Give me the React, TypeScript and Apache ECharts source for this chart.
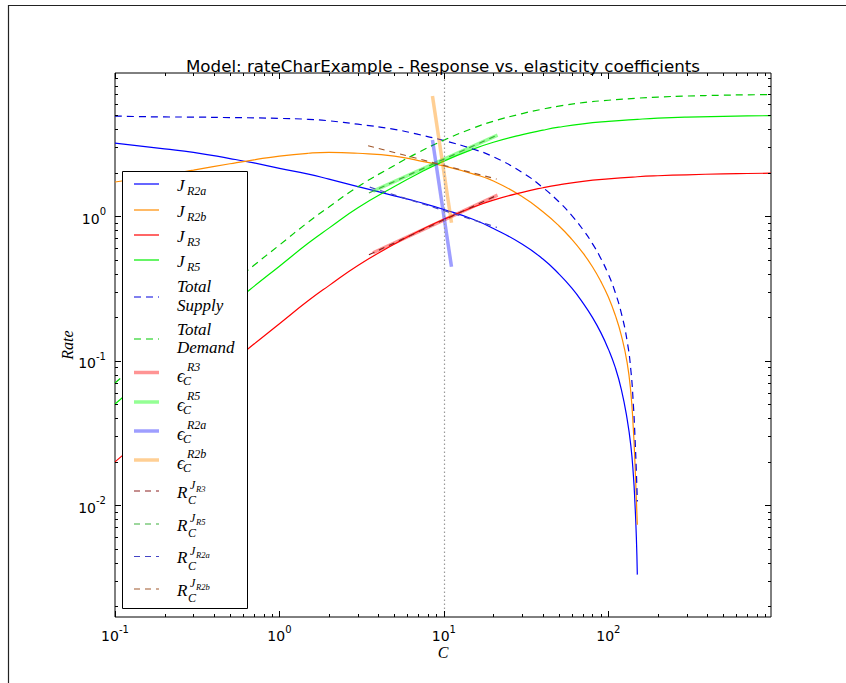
import React, { useEffect, useRef } from 'react';
import * as echarts from 'echarts';

// ---------- data ----------
const cSupply = [0.1, 0.2, 0.3, 0.5, 0.7, 1, 1.5, 2, 3, 5, 7, 10, 15, 20, 30, 40, 50, 60, 70, 80, 90, 100, 110, 120, 130, 137, 142, 145, 148, 150];
const jR2a = [3.2, 2.92, 2.76, 2.5, 2.33, 2.14, 1.95, 1.8, 1.6, 1.38, 1.25, 1.11, 0.95, 0.82, 0.638, 0.504, 0.398, 0.317, 0.251, 0.199, 0.156, 0.12, 0.09, 0.063, 0.0395, 0.0258, 0.016, 0.0105, 0.006, 0.0033];
const jR2b = [1.72, 1.93, 2.08, 2.3, 2.45, 2.6, 2.72, 2.76, 2.72, 2.6, 2.42, 2.22, 1.96, 1.75, 1.36, 1.07, 0.857, 0.69, 0.556, 0.446, 0.353, 0.275, 0.207, 0.149, 0.097, 0.06, 0.033, 0.02, 0.011, 0.0073];
const totalSupply = [4.92, 4.85, 4.84, 4.8, 4.78, 4.74, 4.67, 4.56, 4.32, 3.98, 3.67, 3.33, 2.91, 2.57, 2.0, 1.574, 1.255, 1.007, 0.807, 0.645, 0.509, 0.395, 0.297, 0.212, 0.137, 0.086, 0.049, 0.0305, 0.017, 0.0106];

const cDemand = [0.1, 0.2, 0.3, 0.5, 0.7, 1, 1.5, 2, 3, 5, 7, 10, 15, 20, 30, 40, 50, 70, 100, 150, 200, 300, 500, 700, 975];
const jR3 = [0.0199, 0.039, 0.058, 0.095, 0.13, 0.18, 0.26, 0.33, 0.455, 0.64, 0.785, 0.95, 1.15, 1.29, 1.46, 1.57, 1.645, 1.74, 1.81, 1.87, 1.9, 1.93, 1.96, 1.97, 1.98];
const jR5 = [0.05, 0.098, 0.145, 0.238, 0.326, 0.45, 0.65, 0.825, 1.14, 1.6, 1.97, 2.4, 2.9, 3.24, 3.66, 3.93, 4.12, 4.35, 4.52, 4.67, 4.76, 4.84, 4.9, 4.93, 4.95];
const totalDemand = [0.07, 0.137, 0.203, 0.333, 0.456, 0.63, 0.91, 1.155, 1.595, 2.24, 2.755, 3.35, 4.05, 4.53, 5.12, 5.5, 5.765, 6.09, 6.33, 6.54, 6.66, 6.77, 6.86, 6.9, 6.93];

// elasticity tangent lines [C, rate]
const elastR3 = [[3.71, 0.557], [21.2, 1.397]];
const elastR5 = [[3.71, 1.489], [21.2, 3.636]];
const elastR2a = [[8.52, 3.36], [11.12, 0.446]];
const elastR2b = [[8.52, 6.77], [11.12, 0.899]];
// response coefficient lines [C, rate]
const respJR3 = [[3.5, 0.54], [21, 1.39]];
const respJR5 = [[3.5, 1.445], [21, 3.62]];
const respJR2a = [[3.54, 1.585], [21.0, 0.835]];
const respJR2b = [[3.46, 3.066], [20.9, 1.803]];
const steadyStateC = 10;

const xMajorTicks = [0.1, 1, 10, 100];
const xMinorTicks = [0.2, 0.3, 0.4, 0.5, 0.6, 0.7, 0.8, 0.9, 2, 3, 4, 5, 6, 7, 8, 9, 20, 30, 40, 50, 60, 70, 80, 90, 200, 300, 400, 500, 600, 700, 800, 900];
const yMajorTicks = [0.01, 0.1, 1];
const yMinorTicks = [0.002, 0.003, 0.004, 0.005, 0.006, 0.007, 0.008, 0.009, 0.02, 0.03, 0.04, 0.05, 0.06, 0.07, 0.08, 0.09, 0.2, 0.3, 0.4, 0.5, 0.6, 0.7, 0.8, 0.9, 2, 3, 4, 5, 6, 7, 8, 9];

const X_MIN = 0.1, X_MAX = 975, Y_MIN = 0.00168, Y_MAX = 9.77;

// ---------- styles ----------
const COL = {
  r2a: '#0000ff',
  r2b: '#ff8c00',
  r3: '#ff0000',
  r5: '#00ee00',
  supply: '#0000dd',
  demand: '#00cc00',
  eR3: 'rgba(255,0,0,0.42)',
  eR5: 'rgba(0,255,0,0.42)',
  eR2a: 'rgba(0,0,255,0.38)',
  eR2b: 'rgba(255,140,0,0.42)',
  rR3: '#8b2020',
  rR5: '#3cb03c',
  rR2a: '#4444c4',
  rR2b: '#a0582c',
};
const DASH = [7, 5];
const RDASH = [6, 5];

const zip = (xs: number[], ys: number[]) => xs.map((x, i) => [x, ys[i]]);

function lineSeries(name: string, data: number[][], color: string, width: number, type: any, smooth = false, z = 2) {
  return {
    type: 'line', name, data, z,
    showSymbol: false, symbol: 'none', silent: true,
    smooth: smooth ? 0.5 : false,
    lineStyle: { color, width, type, cap: 'butt' },
    itemStyle: { color },
  };
}

const powLabel = (v: number) => {
  const l = Math.log10(v);
  const e = Math.round(l);
  if (Math.abs(l - e) > 1e-6) return '';
  return `{b|10}{s|${e}}`;
};

const labelRich = {
  b: { fontSize: 14, fontFamily: 'DejaVu Sans', color: '#000', padding: [5, 0, 0, 0], verticalAlign: 'bottom' },
  s: { fontSize: 10, fontFamily: 'DejaVu Sans', color: '#000', verticalAlign: 'top' },
};

function tickSeries(axis: 'x' | 'y') {
  const data = axis === 'x'
    ? [...xMajorTicks.map((v) => [v, 1, 6]), ...xMinorTicks.map((v) => [v, 1, 3])]
    : [...yMajorTicks.map((v) => [1, v, 6]), ...yMinorTicks.map((v) => [1, v, 3])];
  return {
    type: 'custom', silent: true, z: 5,
    data,
    encode: { x: 0, y: 1 },
    renderItem: (params: any, api: any) => {
      const cs = params.coordSys;
      const len = api.value(2);
      const st = { stroke: '#000', lineWidth: 1 };
      if (axis === 'x') {
        const px = Math.round(api.coord([api.value(0), 1])[0]) + 0.5;
        const b = cs.y + cs.height;
        return {
          type: 'group', children: [
            { type: 'line', shape: { x1: px, y1: b, x2: px, y2: b - len }, style: st },
            { type: 'line', shape: { x1: px, y1: cs.y, x2: px, y2: cs.y + len }, style: st },
          ],
        };
      }
      const py = Math.round(api.coord([1, api.value(1)])[1]) + 0.5;
      const r = cs.x + cs.width;
      return {
        type: 'group', children: [
          { type: 'line', shape: { x1: cs.x, y1: py, x2: cs.x + len, y2: py }, style: st },
          { type: 'line', shape: { x1: r, y1: py, x2: r - len, y2: py }, style: st },
        ],
      };
    },
  };
}

// ---------- legend (drawn with graphic elements) ----------
const LX1 = 134, LX2 = 159, TX = 177;
const SERIF = '"Liberation Serif", serif';

function txt(text: string, x: number, y: number, size: number) {
  return {
    type: 'text', x, y, z: 101, silent: true,
    style: {
      text, fill: '#000', fontSize: size, fontStyle: 'italic', fontFamily: SERIF,
      textAlign: 'left', textVerticalAlign: 'middle', align: 'left', verticalAlign: 'middle',
    },
  };
}
function handle(y: number, color: string, width: number, dash?: number[]) {
  return {
    type: 'line', z: 101, silent: true,
    shape: { x1: LX1, y1: y, x2: LX2, y2: y },
    style: { stroke: color, lineWidth: width, lineDash: dash || null },
  };
}
function jLabel(y: number, sub: string) {
  return [txt('J', TX, y + 1, 17), txt(sub, TX + 10, y + 7, 12)];
}
function eLabel(y: number, sup: string) {
  return [txt('\u03F5', TX, y + 3, 18), txt('C', TX + 6, y + 8, 12), txt(sup, TX + 10, y - 6, 12)];
}
function rLabel(y: number, sub: string) {
  return [txt('R', TX, y + 1, 17), txt('C', TX + 11, y + 9, 12), txt('J', TX + 13, y - 6, 12), txt(sub, TX + 19, y - 2, 8.5)];
}

function legendElements() {
  const els: any[] = [
    { type: 'rect', z: 100, silent: true, shape: { x: 122.5, y: 171.5, width: 125, height: 437 }, style: { fill: '#fff', stroke: '#000', lineWidth: 1 } },
  ];
  const rows: [number, string, number, number[] | undefined, any[]][] = [
    [184, COL.r2a, 1.2, undefined, jLabel(184, 'R2a')],
    [210, COL.r2b, 1.2, undefined, jLabel(210, 'R2b')],
    [235, COL.r3, 1.2, undefined, jLabel(235, 'R3')],
    [260, COL.r5, 1.2, undefined, jLabel(260, 'R5')],
    [297, COL.supply, 1.2, DASH, [txt('Total', TX, 286, 17), txt('Supply', TX, 305, 17)]],
    [339, COL.demand, 1.2, DASH, [txt('Total', TX, 329, 17), txt('Demand', TX, 347, 17)]],
    [372.5, COL.eR3, 3.5, undefined, eLabel(372.5, 'R3')],
    [402, COL.eR5, 3.5, undefined, eLabel(402, 'R5')],
    [431, COL.eR2a, 3.5, undefined, eLabel(431, 'R2a')],
    [460, COL.eR2b, 3.5, undefined, eLabel(460, 'R2b')],
    [491, COL.rR3, 1.2, RDASH, rLabel(491, 'R3')],
    [524, COL.rR5, 1.2, RDASH, rLabel(524, 'R5')],
    [556.5, COL.rR2a, 1.2, RDASH, rLabel(556.5, 'R2a')],
    [589, COL.rR2b, 1.2, RDASH, rLabel(589, 'R2b')],
  ];
  rows.forEach(([y, c, w, d, labels]) => {
    els.push(handle(y, c, w, d));
    els.push(...labels);
  });
  return els;
}

function buildOption(): any {
  return {
    animation: false,
    backgroundColor: '#fff',
    title: {
      text: 'Model: rateCharExample - Response vs. elasticity coefficients',
      left: 438, top: 52, textAlign: 'center',
      textStyle: { fontFamily: 'DejaVu Sans', fontSize: 16.7, fontWeight: 'normal', color: '#000' },
    },
    grid: { left: 115, top: 73, width: 656, height: 544, show: true, borderColor: '#000', borderWidth: 1, backgroundColor: '#fff', containLabel: false },
    xAxis: {
      type: 'log', logBase: 10, min: X_MIN, max: X_MAX,
      name: 'C', nameLocation: 'middle', nameGap: 27, nameMoveOverlap: false,
      nameTextStyle: { fontFamily: SERIF, fontStyle: 'italic', fontSize: 16, color: '#000' },
      axisLine: { show: false }, axisTick: { show: false }, splitLine: { show: false },
      axisLabel: { formatter: powLabel, margin: 7, rich: labelRich, color: '#000' },
    },
    yAxis: {
      type: 'log', logBase: 10, min: Y_MIN, max: Y_MAX,
      name: 'Rate', nameLocation: 'middle', nameGap: 40, nameRotate: 90, nameMoveOverlap: false,
      nameTextStyle: { fontFamily: SERIF, fontStyle: 'italic', fontSize: 16, color: '#000' },
      axisLine: { show: false }, axisTick: { show: false }, splitLine: { show: false },
      axisLabel: { formatter: powLabel, margin: 9, rich: labelRich, color: '#000' },
    },
    series: [
      {
        ...lineSeries('J_R2a', zip(cSupply, jR2a), COL.r2a, 1.2, 'solid', true),
        markLine: {
          silent: true, symbol: ['none', 'none'], label: { show: false },
          lineStyle: { color: '#999', width: 1.2, type: [1.5, 2.5] },
          data: [{ xAxis: steadyStateC }],
        },
      },
      lineSeries('J_R2b', zip(cSupply, jR2b), COL.r2b, 1.2, 'solid', true),
      lineSeries('J_R3', zip(cDemand, jR3), COL.r3, 1.2, 'solid', true),
      lineSeries('J_R5', zip(cDemand, jR5), COL.r5, 1.2, 'solid', true),
      lineSeries('Total Supply', zip(cSupply, totalSupply), COL.supply, 1.2, DASH, true),
      lineSeries('Total Demand', zip(cDemand, totalDemand), COL.demand, 1.2, DASH, true),
      lineSeries('eps R3', elastR3, COL.eR3, 3.5, 'solid'),
      lineSeries('eps R5', elastR5, COL.eR5, 3.5, 'solid'),
      lineSeries('eps R2a', elastR2a, COL.eR2a, 3.5, 'solid'),
      lineSeries('eps R2b', elastR2b, COL.eR2b, 3.5, 'solid'),
      lineSeries('R J_R3', respJR3, COL.rR3, 1.2, RDASH),
      lineSeries('R J_R5', respJR5, COL.rR5, 1.2, RDASH),
      lineSeries('R J_R2a', respJR2a, COL.rR2a, 1.2, RDASH),
      lineSeries('R J_R2b', respJR2b, COL.rR2b, 1.2, RDASH),
      tickSeries('x'),
      tickSeries('y'),
    ],
    graphic: [
      { type: 'rect', z: 0, silent: true, shape: { x: 8.5, y: 5.5, width: 1000, height: 1000 }, style: { fill: 'none', stroke: '#222', lineWidth: 1.2 } },
      ...legendElements(),
    ],
  };
}

export default function App() {
  const ref = useRef<HTMLDivElement>(null);
  useEffect(() => {
    const chart = echarts.init(ref.current!, undefined, { renderer: 'svg' });
    chart.setOption(buildOption());
    return () => chart.dispose();
  }, []);
  return <div ref={ref} style={{ position: 'absolute', left: 0, top: 0, width: 846, height: 683 }} />;
}
